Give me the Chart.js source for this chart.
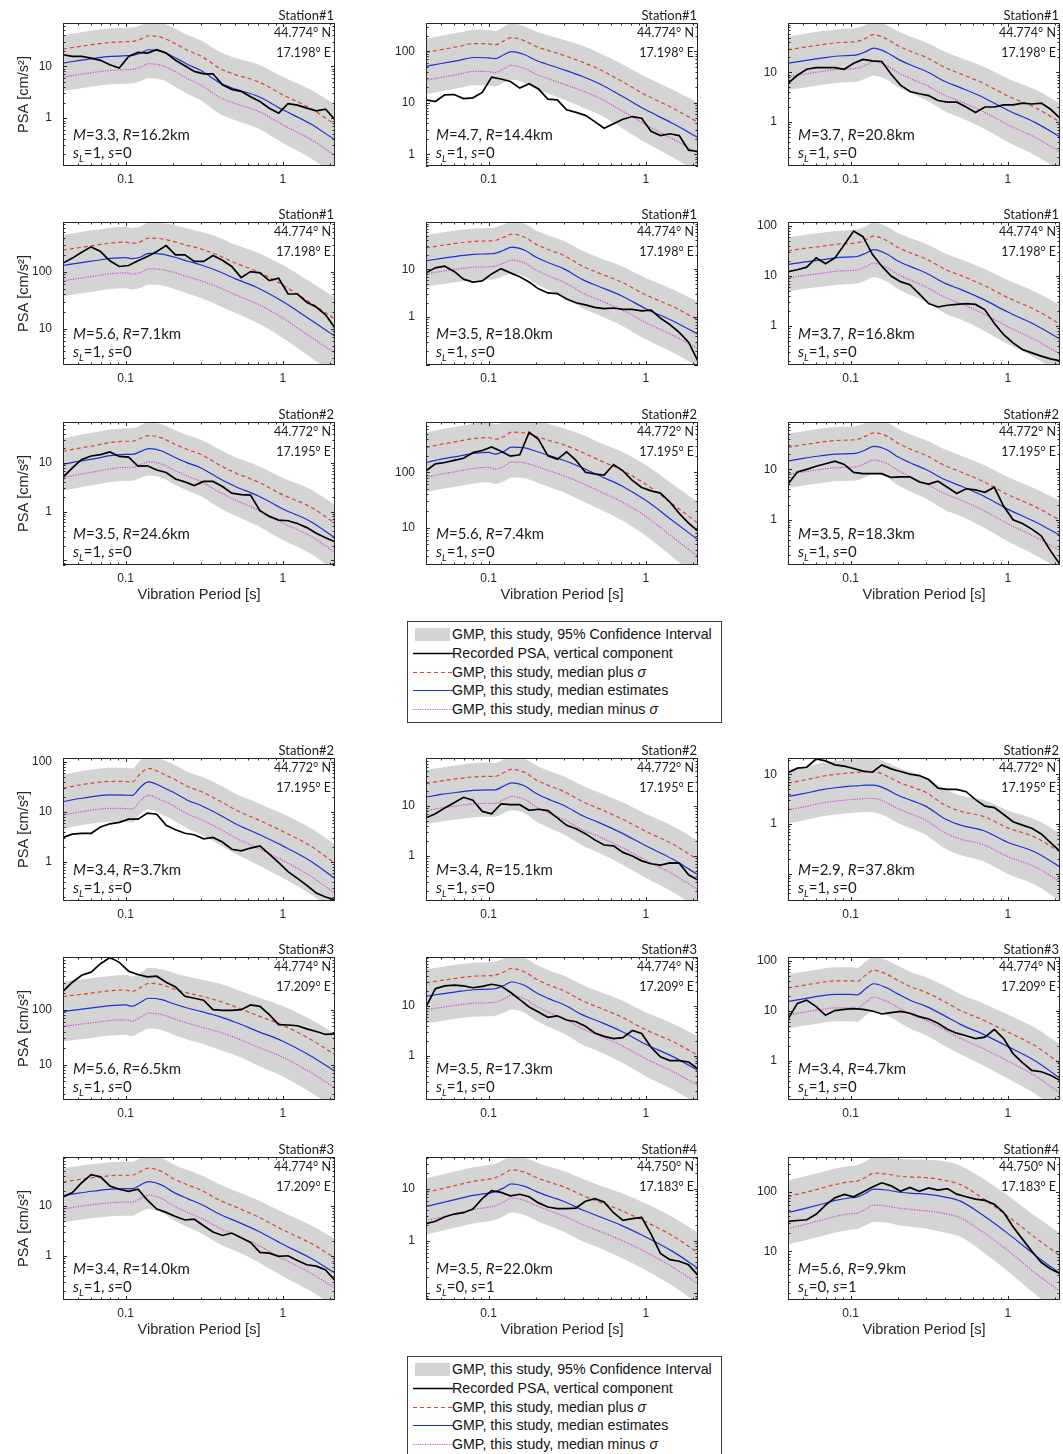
<!DOCTYPE html>
<html>
<head>
<meta charset="utf-8">
<title>Recorded PSA vs. GMP estimates</title>
<script src="https://cdn.jsdelivr.net/npm/chart.js@4.4.1/dist/chart.umd.min.js"></script>
<style>
  html, body { margin: 0; padding: 0; background: #fff; }
  body { position: relative; width: 1063px; height: 1454px; overflow: hidden; }
  canvas.panel { position: absolute; }
  .legend { position: absolute; left: 407px; width: 315px; height: 102px; border: 1px solid #3c3c3c;
            box-sizing: border-box; font-family: "Liberation Sans", Arial, sans-serif; font-size: 14.2px; color: #111; background: #fff; }
  .legend .row { position: absolute; left: 0; width: 100%; height: 19px; }
  .legend .row svg { position: absolute; left: 4px; top: 0; }
  .legend .row span { position: absolute; left: 44px; top: 1px; white-space: nowrap; line-height: 17px; }
</style>
</head>
<body>
<script>
// ---- periods (s) at which the model curves are tabulated ----
const periodsModel = [0.04, 0.05, 0.065, 0.08, 0.1, 0.11, 0.125, 0.14, 0.17, 0.2, 0.25, 0.3, 0.4, 0.5, 0.7, 1.0, 1.5, 2.15];
// model standard deviation (log10 units) and 95% confidence half-width (log10 units)
const sigmaLog = [0.27, 0.27, 0.27, 0.27, 0.27, 0.27, 0.27, 0.27, 0.27, 0.27, 0.275, 0.28, 0.28, 0.28, 0.285, 0.29, 0.30, 0.30];
const ciLog    = [0.54, 0.54, 0.54, 0.54, 0.54, 0.54, 0.54, 0.55, 0.55, 0.56, 0.57, 0.58, 0.60, 0.60, 0.62, 0.64, 0.66, 0.68];

// ---- periods (s) of the recorded spectra ----
const periodsRec = [0.04, 0.0459, 0.0526, 0.0604, 0.0693, 0.0795, 0.0912, 0.1046, 0.120, 0.1377,
                    0.158, 0.1812, 0.2079, 0.2385, 0.2736, 0.3139, 0.3601, 0.4132, 0.474, 0.5438,
                    0.6239, 0.7158, 0.8212, 0.9423, 1.081, 1.240, 1.423, 1.633, 1.873, 2.149];

// ---- median GMP estimates (cm/s^2) ----
const medianP1  = [11.6, 12.9, 14.5, 15.6, 16.1, 16.3, 18.1, 21.0, 19.5, 15.6, 10.8, 8.4, 4.75, 3.64, 2.62, 1.45, 0.78, 0.38];
const medianP2  = [51, 58, 67, 76, 75, 72, 86, 99, 86, 67, 53, 44, 32, 24, 13.7, 7.3, 3.9, 2.1];
const medianP3  = [15.2, 17, 19.2, 21, 21.8, 22.4, 26, 30.6, 25, 18.4, 13.4, 10.6, 6.5, 4.9, 3.1, 1.72, 0.97, 0.5];
const medianP4  = [129, 142, 158, 172, 178, 170, 182, 210, 204, 184, 153, 133, 99, 75, 51.5, 30, 14.4, 7.4];
const medianP5  = [15, 16.8, 19, 20.5, 21, 21.5, 25, 29, 25, 18, 13, 10.3, 6.0, 4.4, 2.8, 1.5, 0.82, 0.44];
const medianP6  = [17, 19, 21, 23, 24, 24.5, 28.5, 33.5, 27.5, 20, 14.7, 11.6, 7.1, 5.4, 3.4, 1.9, 1.05, 0.55];
const medianP7  = [9.4, 10.8, 12.5, 14.2, 15.1, 15.1, 17.4, 19.8, 17.7, 13.7, 10, 8.0, 4.7, 3.3, 2.1, 1.14, 0.63, 0.29];
const medianP8  = [150, 172, 196, 218, 228, 212, 238, 285, 275, 240, 195, 165, 118, 88, 57, 31, 13, 6];
const medianP9  = [14.7, 16.5, 18.6, 20, 20.5, 21, 24.5, 28.5, 24.5, 17.7, 12.7, 10, 6.2, 4.7, 2.95, 1.62, 0.9, 0.49];
const medianP10 = [16, 18.4, 20.8, 22, 21.8, 21.4, 32, 40, 32, 25, 17, 13.6, 8.6, 5.8, 3.6, 2.1, 1.05, 0.47];
const medianP11 = [15, 17, 19, 20.5, 21, 21, 25, 29, 25, 18, 13, 10.3, 6.3, 4.7, 2.9, 1.6, 0.85, 0.42];
const medianP12 = [3.6, 4.1, 4.9, 5.4, 5.8, 5.9, 6.1, 6.1, 5.0, 3.8, 2.9, 2.3, 1.26, 0.95, 0.74, 0.43, 0.27, 0.136];
const medianP13 = [93, 100, 110, 118, 122, 115, 136, 161, 152, 129, 106, 93, 74, 59, 40, 26.8, 14.6, 7.6];
const medianP14 = [15.5, 17.3, 19.5, 21, 21.5, 22, 25.5, 30, 25.5, 18.5, 13.3, 10.6, 6.5, 4.9, 3.1, 1.7, 0.95, 0.51];
const medianP15 = [15.5, 17.5, 20, 21.5, 21.5, 21, 28, 35, 29, 22, 15.5, 12.5, 7.9, 5.4, 3.4, 1.95, 1.0, 0.45];
const medianP16 = [16, 18, 20, 21.5, 22, 22, 26.5, 30.5, 26, 19, 13.8, 10.9, 6.7, 5.0, 3.1, 1.7, 0.9, 0.45];
const medianP17 = [4.6, 5.4, 6.5, 7.5, 8.3, 8.8, 10.5, 12.5, 11.2, 9.0, 7.0, 5.8, 3.9, 3.0, 2.0, 1.2, 0.62, 0.3];
const medianP18 = [45, 52, 62, 72, 80, 82, 95, 112, 108, 100, 95, 92, 82, 70, 40, 20, 8.5, 4.2];

// ---- recorded PSA, vertical component (cm/s^2) ----
const recordedP1  = [16.8, 15.6, 15.6, 14.5, 13.1, 10.8, 9.3, 15.6, 18.7, 18.1, 21, 18.1, 13.1, 10.3, 8.0, 7.2, 7.2, 4.4, 3.6, 3.3, 2.6, 2.1, 1.56, 1.25, 1.9, 1.79, 1.56, 1.39, 1.49, 0.93];
const recordedP2  = [11.4, 10.6, 14.3, 14.5, 12.1, 12.5, 15.9, 31.6, 29, 26, 19.3, 23.4, 18.5, 11.8, 11.4, 7.3, 6.5, 5.7, 4.3, 3.2, 3.9, 4.8, 5.4, 5.0, 2.8, 2.3, 2.5, 2.3, 1.2, 1.13];
const recordedP3  = [6.0, 8.7, 11.5, 12.4, 12.4, 12.4, 11.5, 15.2, 18.1, 17, 16.5, 9.1, 5.5, 4.1, 3.7, 3.4, 2.7, 2.5, 2.5, 2.0, 1.55, 2.0, 2.0, 2.2, 2.2, 2.4, 2.3, 2.4, 1.8, 1.2];
const recordedP4  = [142, 174, 221, 274, 227, 156, 124, 129, 156, 186, 227, 289, 199, 199, 152, 152, 193, 160, 124, 79, 101, 96, 70, 77, 40.7, 40.7, 29.2, 24, 17.5, 10.3];
const recordedP5  = [8.4, 10.7, 11.6, 9.0, 6.2, 5.4, 5.7, 8.0, 10.3, 8.4, 7.0, 5.4, 3.9, 3.2, 3.1, 2.4, 2.0, 1.8, 1.6, 1.5, 1.55, 1.45, 1.45, 1.35, 1.4, 0.95, 0.7, 0.48, 0.3, 0.12];
const recordedP6  = [12.2, 13.3, 15, 23, 17.5, 23, 42, 79, 61, 27, 15.7, 10, 7.7, 6.7, 4.4, 2.8, 2.4, 2.6, 2.7, 2.8, 2.7, 2.1, 1.13, 0.67, 0.46, 0.34, 0.29, 0.25, 0.22, 0.2];
const recordedP7  = [5.1, 8.0, 11.9, 14, 14.9, 16.9, 13.7, 13.3, 8.7, 8.8, 7.2, 6.4, 4.7, 4.1, 3.45, 4.2, 4.2, 3.3, 2.4, 2.25, 2.2, 1.05, 0.8, 0.67, 0.65, 0.57, 0.47, 0.36, 0.29, 0.24];
const recordedP8  = [106, 142, 150, 164, 179, 226, 247, 286, 240, 195, 207, 527, 394, 198, 171, 233, 164, 100, 93, 89, 138, 106, 71, 53, 46, 42, 29, 18, 12, 8.6];
const recordedP9  = [5.1, 8.9, 10, 11.5, 12.9, 14.5, 12.5, 8.7, 8.2, 8.2, 8.2, 6.9, 7.1, 7.1, 5.6, 5.1, 5.8, 4.4, 3.3, 4.1, 3.9, 3.5, 4.4, 1.84, 1.0, 0.84, 0.65, 0.48, 0.24, 0.13];
const recordedP10 = [3.1, 3.6, 3.75, 3.75, 5.0, 5.8, 6.2, 7.2, 7.2, 9.5, 9.0, 5.4, 4.4, 3.75, 3.5, 2.9, 3.1, 2.5, 1.8, 1.67, 1.9, 2.1, 1.43, 0.97, 0.64, 0.47, 0.34, 0.24, 0.2, 0.175];
const recordedP11 = [5.8, 7.0, 9.1, 11.6, 14.9, 13, 7.8, 7.0, 11, 10.6, 10.6, 8.2, 8.6, 8.1, 5.8, 4.1, 3.5, 2.8, 2.1, 1.66, 1.6, 1.18, 1.0, 0.8, 0.7, 0.66, 0.73, 0.72, 0.42, 0.33];
const recordedP12 = [10.8, 13.4, 14, 20.5, 18.8, 15.6, 14.7, 13.2, 11.7, 11.1, 15.6, 13, 11.5, 10.2, 9.5, 7.9, 5.3, 5.0, 5.0, 4.5, 3.1, 2.3, 2.15, 1.56, 1.11, 0.95, 0.82, 0.63, 0.42, 0.28];
const recordedP13 = [215, 314, 421, 478, 680, 880, 720, 498, 433, 393, 404, 314, 258, 175, 161, 148, 100, 97, 97, 100, 122, 115, 81, 53.6, 52.7, 51, 44.7, 40.1, 35.5, 36.4];
const recordedP14 = [9.5, 22, 25, 26, 25, 23, 24.5, 27, 25, 18.7, 13.3, 9.5, 7.5, 5.9, 6.3, 5.2, 4.8, 3.9, 2.85, 2.45, 2.2, 2.3, 3.2, 2.8, 1.48, 0.95, 0.8, 0.8, 0.75, 0.55];
const recordedP15 = [6.9, 14.2, 16.5, 12.2, 8.2, 10.2, 10.8, 11.1, 10.8, 10, 8.7, 9.3, 9.8, 9.0, 7.7, 6.9, 5.7, 4.3, 3.6, 3.2, 2.8, 3.0, 4.3, 2.8, 1.4, 0.93, 0.65, 0.61, 0.52, 0.41];
const recordedP16 = [15, 18.5, 29, 42, 38, 25, 21.5, 19.4, 21.5, 13, 8.6, 7.4, 6.1, 5.2, 5.4, 4.0, 3.0, 2.55, 2.85, 2.3, 1.85, 1.17, 1.13, 0.97, 1.0, 0.8, 0.66, 0.62, 0.52, 0.32];
const recordedP17 = [2.15, 2.4, 2.9, 3.3, 3.5, 4.1, 6.5, 9.3, 8.6, 7.4, 7.9, 7.1, 5.4, 4.5, 4.2, 4.2, 4.3, 5.8, 6.5, 5.6, 3.5, 2.5, 2.7, 2.85, 1.36, 0.58, 0.44, 0.41, 0.35, 0.22];
const recordedP18 = [32, 33, 34, 42, 60, 80, 91, 83, 100, 121, 143, 127, 103, 119, 103, 117, 108, 114, 92, 83, 76, 72, 62, 45, 26, 16, 10, 6.5, 5, 4.2];

// ---- vertical axis limits per panel (cm/s^2) ----
const yMinP = [0.119, 0.59, 0.13, 2.3, 0.1, 0.166, 0.08, 2.1, 0.126, 0.166, 0.126, 0.028, 2.3, 0.13, 0.166, 0.13, 0.074, 1.5];
const yMaxP = [69, 356, 98, 750, 97, 120, 70, 810, 87, 120, 91, 21.5, 900, 95, 120, 95, 41, 390];

// ---- event / station annotations, one entry per panel ----
const stations   = ['Station#1','Station#1','Station#1','Station#1','Station#1','Station#1','Station#2','Station#2','Station#2',
                    'Station#2','Station#2','Station#2','Station#3','Station#3','Station#3','Station#3','Station#4','Station#4'];
const latitudes  = ['44.774° N','44.774° N','44.774° N','44.774° N','44.774° N','44.774° N','44.772° N','44.772° N','44.772° N',
                    '44.772° N','44.772° N','44.772° N','44.774° N','44.774° N','44.774° N','44.774° N','44.750° N','44.750° N'];
const longitudes = ['17.198° E','17.198° E','17.198° E','17.198° E','17.198° E','17.198° E','17.195° E','17.195° E','17.195° E',
                    '17.195° E','17.195° E','17.195° E','17.209° E','17.209° E','17.209° E','17.209° E','17.183° E','17.183° E'];
const magnitudes = ['3.3','4.7','3.7','5.6','3.5','3.7','3.5','5.6','3.5','3.4','3.4','2.9','5.6','3.5','3.4','3.4','3.5','5.6'];
const distances  = ['16.2','14.4','20.8','7.1','18.0','16.8','24.6','7.4','18.3','3.7','15.1','37.8','6.5','17.3','4.7','14.0','22.0','9.9'];
const siteSL     = [1,1,1,1,1,1,1,1,1,1,1,1,1,1,1,1,0,0];
const siteS      = [0,0,0,0,0,0,0,0,0,0,0,0,0,0,0,0,1,1];

// ---- axis tick labels ----
const xTickLabels = [0.1, 1];
const yTickLabels = [1, 10, 100];
const xAxisRange = [0.04, 2.15];

const medians   = [medianP1, medianP2, medianP3, medianP4, medianP5, medianP6, medianP7, medianP8, medianP9,
                   medianP10, medianP11, medianP12, medianP13, medianP14, medianP15, medianP16, medianP17, medianP18];
const recordeds = [recordedP1, recordedP2, recordedP3, recordedP4, recordedP5, recordedP6, recordedP7, recordedP8, recordedP9,
                   recordedP10, recordedP11, recordedP12, recordedP13, recordedP14, recordedP15, recordedP16, recordedP17, recordedP18];

// ---- page layout ----
const colLeft = [63, 426, 788];
const rowTop  = [23, 222, 422, 758, 957, 1157];
const PW = 276, PH = 143, ML = 62, MT = 24, MB = 45, MR = 2;

const COLORS = { band: '#d4d4d4', rec: '#000000', plus: '#e2402e', median: '#1f2fd2', minus: '#d840d8', axis: '#262626' };
const ANNOT_FONT = 'Lato, "Open Sans", sans-serif';
const AXIS_FONT = '"Liberation Sans", Arial, sans-serif';

function near(v, list) { return list.find(t => Math.abs(Math.log10(v) - Math.log10(t)) < 1e-6); }

function logTickValues(min, max) {
  const out = [];
  for (let e = Math.floor(Math.log10(min)); e <= Math.ceil(Math.log10(max)); e++) {
    for (let d = 1; d <= 9; d++) {
      const v = d * Math.pow(10, e);
      if (v >= min * 0.9999 && v <= max * 1.0001) out.push({ v, major: d === 1 });
    }
  }
  return out;
}

function drawParts(ctx, x, y, parts, size) {
  let cx = x;
  for (const p of parts) {
    const fs = p.sub ? size * 0.66 : size;
    ctx.font = (p.it ? 'italic ' : '') + fs + 'px ' + ANNOT_FONT;
    ctx.fillText(p.t, cx, p.sub ? y + size * 0.26 : y);
    cx += ctx.measureText(p.t).width;
  }
}

// frame, inward ticks, panel annotations and axis titles
const panelDecor = {
  id: 'panelDecor',
  afterDraw(chart, args, opts) {
    const i = opts.index;
    const { ctx, chartArea: a, scales: { x, y } } = chart;
    ctx.save();
    ctx.strokeStyle = COLORS.axis;
    ctx.lineWidth = 1;
    ctx.strokeRect(a.left + 0.5, a.top + 0.5, a.right - a.left - 1, a.bottom - a.top - 1);

    ctx.beginPath();
    for (const t of logTickValues(x.min, x.max)) {
      const px = Math.round(x.getPixelForValue(t.v)) + 0.5;
      const len = t.major ? 4 : 2.5;
      ctx.moveTo(px, a.bottom); ctx.lineTo(px, a.bottom - len);
      ctx.moveTo(px, a.top); ctx.lineTo(px, a.top + len);
    }
    for (const t of logTickValues(y.min, y.max)) {
      const py = Math.round(y.getPixelForValue(t.v)) + 0.5;
      const len = t.major ? 4 : 2.5;
      ctx.moveTo(a.left, py); ctx.lineTo(a.left + len, py);
      ctx.moveTo(a.right, py); ctx.lineTo(a.right - len, py);
    }
    ctx.stroke();

    // station name above the frame, coordinates inside it
    ctx.fillStyle = '#1a1a1a';
    ctx.textAlign = 'right';
    ctx.textBaseline = 'alphabetic';
    ctx.font = '13px ' + ANNOT_FONT;
    ctx.fillText(stations[i], a.right - 1, a.top - 3);
    ctx.font = '12.5px ' + ANNOT_FONT;
    ctx.fillText(latitudes[i], a.right - 4, a.top + 13.5);
    ctx.fillText(longitudes[i], a.right - 4, a.top + 33.5);

    // event parameters
    ctx.textAlign = 'left';
    drawParts(ctx, a.left + 10, a.bottom - 26, [
      { t: 'M', it: true }, { t: '=' + magnitudes[i] + ', ' }, { t: 'R', it: true }, { t: '=' + distances[i] + 'km' }
    ], 15);
    drawParts(ctx, a.left + 10, a.bottom - 8, [
      { t: 's', it: true }, { t: 'L', it: true, sub: true }, { t: '=' + siteSL[i] + ', ' }, { t: 's', it: true }, { t: '=' + siteS[i] }
    ], 15);

    // axis titles
    ctx.fillStyle = COLORS.axis;
    ctx.font = '14.6px ' + AXIS_FONT;
    if (i % 3 === 0) {
      ctx.save();
      ctx.translate(a.left - 39, (a.top + a.bottom) / 2);
      ctx.rotate(-Math.PI / 2);
      ctx.textAlign = 'center';
      ctx.textBaseline = 'middle';
      ctx.fillText('PSA [cm/s²]', 0, 0);
      ctx.restore();
    }
    const row = Math.floor(i / 3);
    if (row === 2 || row === 5) {
      ctx.textAlign = 'center';
      ctx.textBaseline = 'middle';
      ctx.fillText('Vibration Period [s]', (a.left + a.right) / 2, a.bottom + 30);
    }
    ctx.restore();
  }
};

function makePanel(i) {
  const med = medians[i];
  const rec = recordeds[i];
  const pts = (vals, xs) => vals.map((v, k) => ({ x: xs[k], y: v }));
  const plus  = med.map((v, k) => v * Math.pow(10, sigmaLog[k]));
  const minus = med.map((v, k) => v / Math.pow(10, sigmaLog[k]));
  const upper = med.map((v, k) => v * Math.pow(10, ciLog[k]));
  const lower = med.map((v, k) => v / Math.pow(10, ciLog[k]));

  const col = i % 3, row = Math.floor(i / 3);
  const canvas = document.createElement('canvas');
  canvas.className = 'panel';
  canvas.width = ML + PW + MR;
  canvas.height = MT + PH + MB;
  canvas.style.left = (colLeft[col] - ML) + 'px';
  canvas.style.top = (rowTop[row] - MT) + 'px';
  document.body.appendChild(canvas);

  const smooth = { cubicInterpolationMode: 'monotone', pointRadius: 0 };
  new Chart(canvas, {
    type: 'line',
    data: {
      datasets: [
        { label: 'Recorded PSA', data: pts(rec, periodsRec), borderColor: COLORS.rec, borderWidth: 1.7, pointRadius: 0, tension: 0 },
        { label: 'median plus sigma', data: pts(plus, periodsModel), borderColor: COLORS.plus, borderWidth: 1.2, borderDash: [4, 3], ...smooth },
        { label: 'median', data: pts(med, periodsModel), borderColor: COLORS.median, borderWidth: 1.2, ...smooth },
        { label: 'median minus sigma', data: pts(minus, periodsModel), borderColor: COLORS.minus, borderWidth: 1.2, borderDash: [1.2, 1.3], ...smooth },
        { label: 'CI upper', data: pts(upper, periodsModel), borderWidth: 0, borderColor: 'rgba(0,0,0,0)', backgroundColor: COLORS.band, fill: '+1', ...smooth },
        { label: 'CI lower', data: pts(lower, periodsModel), borderWidth: 0, borderColor: 'rgba(0,0,0,0)', fill: false, ...smooth }
      ]
    },
    options: {
      responsive: false,
      animation: false,
      devicePixelRatio: 1,
      events: [],
      layout: { padding: { top: MT, right: MR, left: 0, bottom: 0 }, autoPadding: false },
      plugins: { legend: { display: false }, tooltip: { enabled: false }, panelDecor: { index: i } },
      scales: {
        x: {
          type: 'logarithmic', min: xAxisRange[0], max: xAxisRange[1],
          grid: { display: false, drawTicks: false }, border: { display: false },
          ticks: { autoSkip: false, maxRotation: 0, padding: 6, color: COLORS.axis, font: { family: AXIS_FONT, size: 12 },
                   callback: v => { const t = near(v, xTickLabels); return t === undefined ? '' : String(t); } },
          afterFit: s => { s.height = MB; }
        },
        y: {
          type: 'logarithmic', min: yMinP[i], max: yMaxP[i],
          grid: { display: false, drawTicks: false }, border: { display: false },
          ticks: { autoSkip: false, padding: 11, color: COLORS.axis, font: { family: AXIS_FONT, size: 12 },
                   callback: v => { const t = near(v, yTickLabels); return t === undefined ? '' : String(t); } },
          afterFit: s => { s.width = ML; }
        }
      }
    },
    plugins: [panelDecor]
  });
}

medians.forEach((m, i) => makePanel(i));

// ---- legend boxes ----
const legendEntries = [
  { kind: 'band',  html: 'GMP, this study, 95% Confidence Interval' },
  { kind: 'rec',   html: 'Recorded PSA, vertical component' },
  { kind: 'plus',  html: 'GMP, this study, median plus <i>σ</i>' },
  { kind: 'median',html: 'GMP, this study, median estimates' },
  { kind: 'minus', html: 'GMP, this study, median minus <i>σ</i>' }
];
const legendTops = [621, 1356];

function swatch(kind) {
  if (kind === 'band') return '<svg width="42" height="19"><rect x="3" y="3" width="35" height="13" fill="' + COLORS.band + '"/></svg>';
  const styles = {
    rec: 'stroke="#000" stroke-width="1.5"',
    plus: 'stroke="' + COLORS.plus + '" stroke-width="1.1" stroke-dasharray="4 3"',
    median: 'stroke="' + COLORS.median + '" stroke-width="1.1"',
    minus: 'stroke="' + COLORS.minus + '" stroke-width="1.1" stroke-dasharray="1.2 1.2"'
  };
  return '<svg width="42" height="19"><line x1="1" y1="9.5" x2="41" y2="9.5" ' + styles[kind] + '/></svg>';
}

legendTops.forEach(top => {
  const box = document.createElement('div');
  box.className = 'legend';
  box.style.top = top + 'px';
  legendEntries.forEach((e, k) => {
    const row = document.createElement('div');
    row.className = 'row';
    row.style.top = (3 + k * 18.8) + 'px';
    row.innerHTML = swatch(e.kind) + '<span>' + e.html + '</span>';
    box.appendChild(row);
  });
  document.body.appendChild(box);
});
</script>
</body>
</html>
